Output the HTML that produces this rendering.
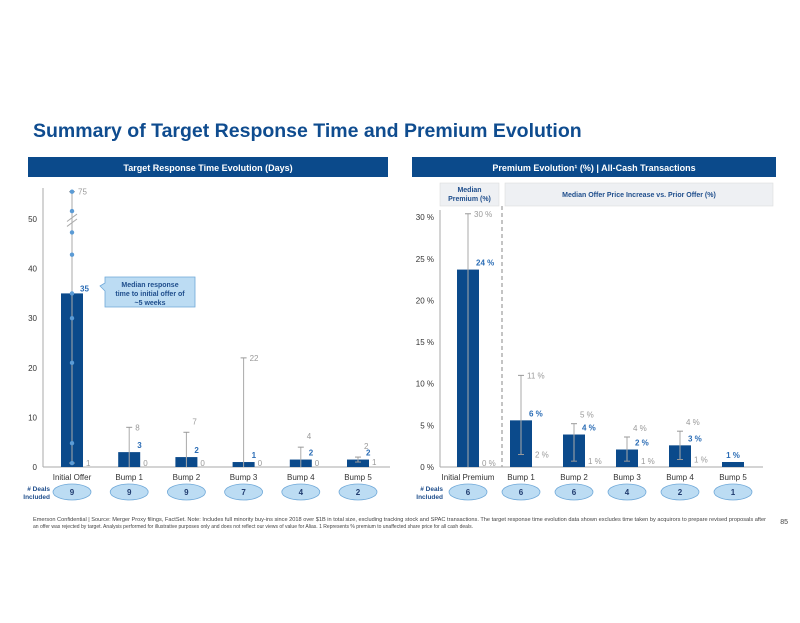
<!DOCTYPE html>
<html><head><meta charset="utf-8"><style>
html,body{margin:0;padding:0;background:#fff;}
body{width:800px;height:618px;overflow:hidden;font-family:"Liberation Sans",Arial,sans-serif;}
svg text{font-family:"Liberation Sans",Arial,sans-serif;}
</style></head><body>
<svg id="page" width="800" height="618" viewBox="0 0 800 618" xmlns="http://www.w3.org/2000/svg">
<text x="33" y="137" font-size="19.5" font-weight="bold" fill="#0f4c8f">Summary of Target Response Time and Premium Evolution</text>
<rect x="28" y="157" width="360" height="20" fill="#0b4a8b"/>
<text x="208" y="171" font-size="9" font-weight="bold" fill="#fff" text-anchor="middle">Target Response Time Evolution (Days)</text>
<rect x="412" y="157" width="364" height="20" fill="#0b4a8b"/>
<text x="594" y="171" font-size="9" font-weight="bold" fill="#fff" text-anchor="middle">Premium Evolution¹ (%) | All-Cash Transactions</text>
<rect x="440" y="183" width="59" height="23" fill="#eef0f3" stroke="#d8d8d8" stroke-width="0.5"/>
<text x="469.5" y="192" font-size="7" font-weight="bold" fill="#1f4e8c" text-anchor="middle">Median</text>
<text x="469.5" y="201" font-size="7" font-weight="bold" fill="#1f4e8c" text-anchor="middle">Premium (%)</text>
<rect x="505" y="183" width="268" height="23" fill="#eef0f3" stroke="#d8d8d8" stroke-width="0.5"/>
<text x="639" y="197" font-size="7" font-weight="bold" fill="#1f4e8c" text-anchor="middle">Median Offer Price Increase vs. Prior Offer (%)</text>
<line x1="502" y1="206" x2="502" y2="467" stroke="#888" stroke-dasharray="4,3" stroke-width="1"/>
<g id="left"></g>
<g id="right"></g>
<text x="33" y="521" font-size="5" fill="#444" textLength="733" lengthAdjust="spacingAndGlyphs">Emerson Confidential | Source: Merger Proxy filings, FactSet. Note: Includes full minority buy-ins since 2018 over $1B in total size, excluding tracking stock and SPAC transactions. The target response time evolution data shown excludes time taken by acquirors to prepare revised proposals after</text>
<text x="33" y="528" font-size="5" fill="#444" textLength="440" lengthAdjust="spacingAndGlyphs">an offer was rejected by target. Analysis performed for illustrative purposes only and does not reflect our views of value for Alias. 1 Represents % premium to unaffected share price for all cash deals.</text>
<text x="788" y="524" font-size="7" fill="#444" text-anchor="end">85</text>
</svg>
<script>
// Left chart data
const leftCategories=["Initial Offer","Bump 1","Bump 2","Bump 3","Bump 4","Bump 5"];
const leftMedian=[35,3,2,1,1.5,1.5];
const leftMedianLabels=["35","3","2","1","2","2"];
const leftHigh=[55.5,8,7,22,4,2];
const leftHighLabels=["75","8","7","22","4","2"];
const leftLow=[0.8,0,0,0,0,1];
const leftLowLabels=["1","0","0","0","0","1"];
const leftDeals=[9,9,9,7,4,2];
const leftDots=[55.5,51.6,47.3,42.8,35,30,21,4.8,0.8];
const leftTicks=[0,10,20,30,40,50];
// Right chart data
const rightCategories=["Initial Premium","Bump 1","Bump 2","Bump 3","Bump 4","Bump 5"];
const rightMedian=[23.7,5.6,3.9,2.1,2.6,0.6];
const rightMedianLabels=["24 %","6 %","4 %","2 %","3 %","1 %"];
const rightHigh=[30.4,11,5.2,3.6,4.3,null];
const rightHighLabels=["30 %","11 %","5 %","4 %","4 %",""];
const rightLow=[0,1.5,0.7,0.7,0.9,null];
const rightLowLabels=["0 %","2 %","1 %","1 %","1 %",""];
const rightDeals=[6,6,6,4,2,1];
const rightTicks=[0,5,10,15,20,25,30];

const NS="http://www.w3.org/2000/svg";
function mk(parent,tag,attrs,text){const e=document.createElementNS(NS,tag);for(const k in attrs)e.setAttribute(k,attrs[k]);if(text!==undefined)e.textContent=text;parent.appendChild(e);return e;}

function drawChart(g,o){
  const y=v=>o.y0-v*o.k;
  const x=i=>o.x0+i*o.step;
  mk(g,'line',{x1:o.ax,y1:o.top,x2:o.ax,y2:o.y0,stroke:'#aaa'});
  mk(g,'line',{x1:o.ax,y1:o.y0,x2:o.axEnd,y2:o.y0,stroke:'#aaa'});
  o.ticks.forEach(t=>{
    const tx=mk(g,'text',{x:o.ax-6,y:y(t)+3,'font-size':8,fill:'#333','text-anchor':'end'},t+o.tickSuffix);
    
    
  });
  o.cats.forEach((c,i)=>{
    const cx=x(i);
    const b=mk(g,'rect',{x:cx-11,y:y(o.med[i]),width:22,height:o.med[i]*o.k,fill:'#0b4a8b'});
    
    
    if(o.hi[i]!==null){
      const w=mk(g,'line',{x1:cx,y1:y(o.hi[i]),x2:cx,y2:y(o.lo[i]),stroke:'#aaa','stroke-width':1});
      
      
      mk(g,'line',{x1:cx-3,y1:y(o.hi[i]),x2:cx+3,y2:y(o.hi[i]),stroke:'#999'});
      if(o.lo[i]>0.3)mk(g,'line',{x1:cx-3,y1:y(o.lo[i]),x2:cx+3,y2:y(o.lo[i]),stroke:'#999'});
      const hl=mk(g,'text',{x:cx+6,y:o.hiLabY?o.hiLabY(i,y):y(o.hi[i])+3,'font-size':8,fill:'#999'},o.hiLab[i]);
      
      
      const ll=mk(g,'text',{x:cx+14,y:Math.min(y(o.lo[i])+3,o.y0-1),'font-size':8,fill:'#999'},o.loLab[i]);
      
      
    }
    const ml=mk(g,'text',{x:cx+(i===o.cats.length-1&&o.hi[i]===null?0:8),y:y(o.med[i])-4-(o.medOff?o.medOff(i):0),'font-size':8,'font-weight':'bold',fill:'#2a6cb5','text-anchor':(o.hi[i]===null?'middle':'start')},o.medLab[i]);
    
    
    const cl=mk(g,'text',{x:cx,y:o.y0+13,'font-size':8,fill:'#333','text-anchor':'middle'},c);
    
    
    const ov=mk(g,'ellipse',{cx:cx,cy:o.y0+25,rx:19,ry:8,fill:'#bcdcf3',stroke:'#6fa8d8','stroke-width':0.8});
    
    
    const dt=mk(g,'text',{x:cx,y:o.y0+28,'font-size':8,'font-weight':'bold',fill:'#1f3a6e','text-anchor':'middle'},o.deals[i]);
    
    
  });
  const d1=mk(g,'text',{x:o.dealsX,y:o.y0+24,'font-size':6.5,'font-weight':'bold',fill:'#1f4e8c','text-anchor':'end'},'# Deals');
  
  
  const d2=mk(g,'text',{x:o.dealsX,y:o.y0+32,'font-size':6.5,'font-weight':'bold',fill:'#1f4e8c','text-anchor':'end'},'Included');
  
  
  return {x,y};
}

const L=drawChart(document.getElementById('left'),{ax:43,axEnd:390,top:188,y0:467,k:4.96,x0:72,step:57.2,ticks:leftTicks,tickSuffix:'',cats:leftCategories,med:leftMedian,medLab:leftMedianLabels,hi:leftHigh,hiLab:leftHighLabels,lo:leftLow,loLab:leftLowLabels,deals:leftDeals,dealsX:50,
 hiLabY:(i,y)=>i===1?y(leftHigh[i])+3:(i===0||i===3?y(leftHigh[i])+3:y(leftHigh[i])-8),
 medOff:i=>i===0?-2:0});
const lg=document.getElementById('left');
leftDots.forEach(v=>{
  const d=mk(lg,'circle',{cx:L.x(0),cy:L.y(v),r:2.2,fill:'#5b9bd5'});
  
  
});
mk(lg,'line',{x1:L.x(0)-5,y1:L.y(49.5),x2:L.x(0)+5,y2:L.y(51),stroke:'#aaa'});
mk(lg,'line',{x1:L.x(0)-5,y1:L.y(48.5),x2:L.x(0)+5,y2:L.y(50),stroke:'#aaa'});
const co=mk(lg,'path',{d:'M105,277 H195 V307 H105 V291 L100,286 L105,283 Z',fill:'#bcdcf3',stroke:'#6fa8d8','stroke-width':0.8});


['Median response','time to initial offer of','~5 weeks'].forEach((t,i)=>{
  const tt=mk(lg,'text',{x:150,y:287+i*9,'font-size':7,'font-weight':'bold',fill:'#1f4e8c','text-anchor':'middle'},t);
  
  
});

drawChart(document.getElementById('right'),{ax:440,axEnd:763,top:210,y0:467,k:8.33,x0:468,step:53,ticks:rightTicks,tickSuffix:' %',cats:rightCategories,med:rightMedian,medLab:rightMedianLabels,hi:rightHigh,hiLab:rightHighLabels,lo:rightLow,loLab:rightLowLabels,deals:rightDeals,dealsX:443,
 hiLabY:(i,y)=>(i===2||i===3||i===4)?y(rightHigh[i])-6:y(rightHigh[i])+3});
</script>
</body></html>
